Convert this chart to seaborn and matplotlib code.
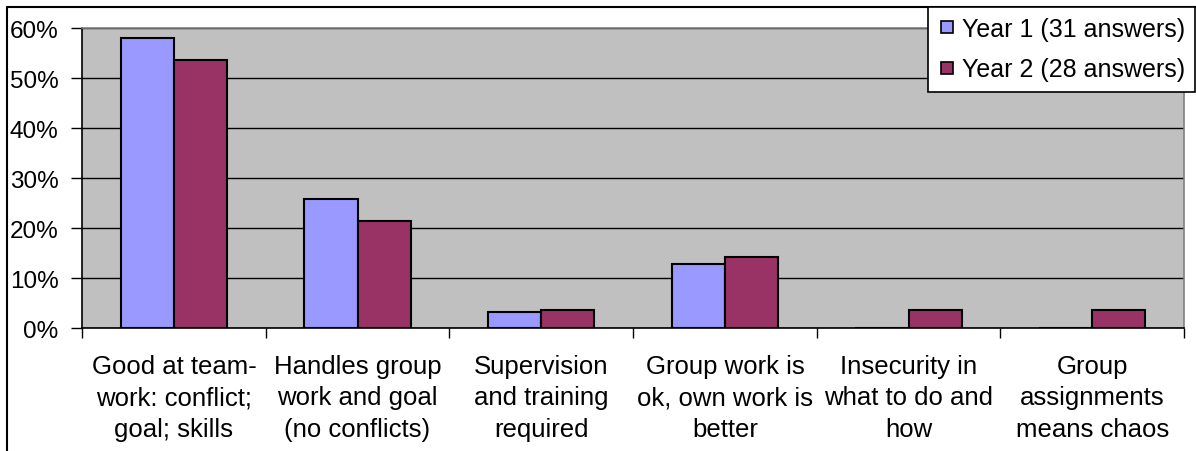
import matplotlib
matplotlib.use("Agg")
import matplotlib.pyplot as plt
from matplotlib.lines import Line2D
from matplotlib.ticker import FixedLocator, PercentFormatter
import seaborn as sns
import pandas as pd

categories = [
    "Good at team-\nwork: conflict;\ngoal; skills",
    "Handles group\nwork and goal\n(no conflicts)",
    "Supervision\nand training\nrequired",
    "Group work is\nok, own work is\nbetter",
    "Insecurity in\nwhat to do and\nhow",
    "Group\nassignments\nmeans chaos",
]
series_names = ["Year 1 (31 answers)", "Year 2 (28 answers)"]
year1 = [58.06, 25.81, 3.23, 12.90, 0.0, 0.0]
year2 = [53.57, 21.43, 3.57, 14.29, 3.57, 3.57]
y_ticks = [0, 10, 20, 30, 40, 50, 60]

colors = ["#9999FF", "#993366"]

df = pd.DataFrame({
    "category": categories * 2,
    "series": [series_names[0]] * len(categories) + [series_names[1]] * len(categories),
    "value": year1 + year2,
})

sns.set_theme(style="white")
plt.rcParams["font.family"] = ["Liberation Sans", "DejaVu Sans"]
plt.rcParams["text.color"] = "black"
plt.rcParams["xtick.color"] = "black"
plt.rcParams["ytick.color"] = "black"

FS = 18.5

fig = plt.figure(figsize=(11.96, 4.52), dpi=100)
ax = fig.add_axes([0.0686, 0.272, 0.9214, 0.6638])

sns.barplot(
    data=df, x="category", y="value", hue="series", order=categories,
    hue_order=series_names, palette=colors, saturation=1, width=0.58, gap=0,
    edgecolor="black", linewidth=1.5, ax=ax, legend=False, errorbar=None,
    zorder=3,
)

ax.set_facecolor("#C0C0C0")
ax.set_xlim(-0.5, len(categories) - 0.5)
ax.set_ylim(0, 60)
ax.set_xlabel("")
ax.set_ylabel("")

ax.yaxis.set_major_locator(FixedLocator(y_ticks))
ax.yaxis.set_major_formatter(PercentFormatter(decimals=0))
ax.grid(axis="y", color="black", linewidth=1.0, zorder=1)
ax.set_axisbelow(True)

ax.tick_params(axis="y", which="major", left=True, length=8, width=1,
               color="black", pad=9, labelsize=17.5, labelcolor="black")
ax.tick_params(axis="x", which="major", bottom=False, length=0, pad=19,
               labelsize=FS, labelcolor="black")
ax.xaxis.set_minor_locator(FixedLocator([i + 0.5 for i in range(-1, len(categories))]))
ax.tick_params(axis="x", which="minor", bottom=True, length=7, width=1, color="black")
for lbl in ax.get_xticklabels():
    lbl.set_linespacing(1.37)

for side in ("left", "bottom"):
    ax.spines[side].set_color("black")
    ax.spines[side].set_linewidth(1.2)
for side in ("top", "right"):
    ax.spines[side].set_color("#808080")
    ax.spines[side].set_linewidth(1.2)

# chart-area border on the left and top edges
fig.add_artist(Line2D([7 / 1196, 7 / 1196], [0, 1 - 8 / 452], transform=fig.transFigure,
                      color="black", linewidth=1.5))
fig.add_artist(Line2D([7 / 1196, 1], [1 - 8 / 452, 1 - 8 / 452], transform=fig.transFigure,
                      color="black", linewidth=1.5))

handles = [
    Line2D([], [], linestyle="none", marker="s", markersize=9,
           markerfacecolor=c, markeredgecolor="black", markeredgewidth=1.2)
    for c in colors
]
leg = fig.legend(
    handles, series_names, loc="upper right",
    bbox_to_anchor=(1195 / 1196, 1 - 8 / 452), bbox_transform=fig.transFigure,
    frameon=True, fancybox=False, framealpha=1, edgecolor="black",
    fontsize=18, handlelength=0.7, handletextpad=0.25, borderpad=0.4,
    labelspacing=0.66, borderaxespad=0,
)
leg.get_frame().set_linewidth(1.2)

fig.savefig("out.png", dpi=100, facecolor="white")
